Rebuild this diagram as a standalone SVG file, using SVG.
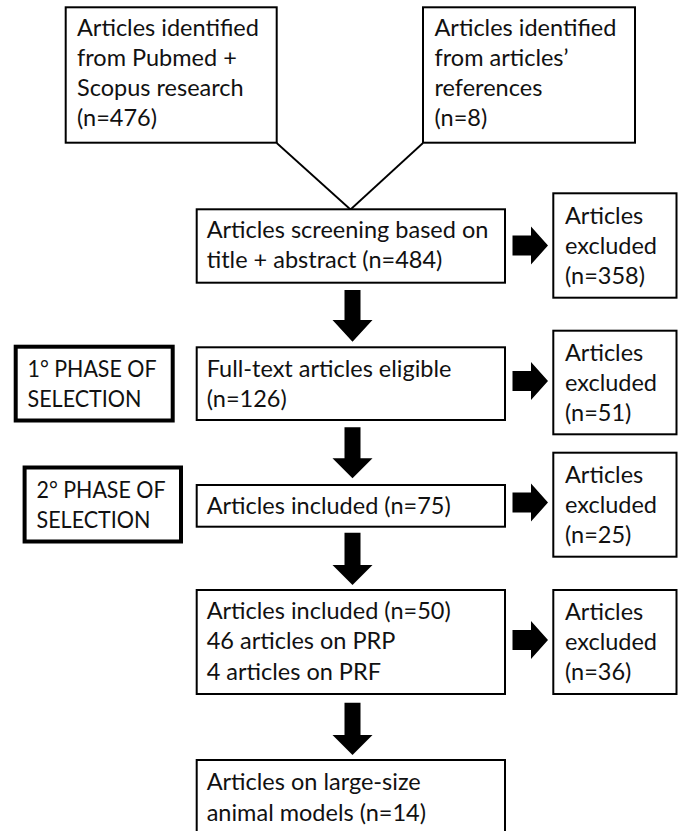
<svg xmlns="http://www.w3.org/2000/svg" width="678" height="831" viewBox="0 0 678 831">
<style>
.box{fill:#fff;stroke:#000;stroke-width:2}
.phase{fill:#fff;stroke:#000;stroke-width:4}
text{font-family:Lato,"Open Sans",sans-serif;font-size:23.5px;fill:#111}
.line{stroke:#000;stroke-width:1.8;fill:none}
.arr{fill:#000}
</style>
<rect width="678" height="831" fill="#fff"/>
<g id="connectors">
<line class="line" x1="276.7" y1="143" x2="350.5" y2="209.5"/>
<line class="line" x1="423" y1="143" x2="350.5" y2="209.5"/>
<path class="arr" d="M344.5,290H360.5V320H372.5L352.5,341.7L332.5,320H344.5Z"/>
<path class="arr" d="M344.5,427.3H360.5V458.3H372.5L352.5,478.3L332.5,458.3H344.5Z"/>
<path class="arr" d="M344.5,532.7H360.5V565H372.5L352.5,585L332.5,565H344.5Z"/>
<path class="arr" d="M344.5,702.7H360.5V735H372.5L352.5,755L332.5,735H344.5Z"/>
<path class="arr" d="M512.5,235.5H531V226.5L548,245.5L531,264.5V255.5H512.5Z"/>
<path class="arr" d="M512.5,371H531V362L548,381L531,400V391H512.5Z"/>
<path class="arr" d="M512.5,492.5H531V483.5L548,502.5L531,521.5V512.5H512.5Z"/>
<path class="arr" d="M512.5,630H531V621L548,640L531,659V650H512.5Z"/>
</g>
<g id="n_pubmed">
<rect class="box" x="65.7" y="7.3" width="211" height="135.4"/>
<text x="77" y="36">Articles identified</text>
<text x="77" y="66">from Pubmed +</text>
<text x="77" y="96">Scopus research</text>
<text x="77" y="126">(n=476)</text>
</g>
<g id="n_refs">
<rect class="box" x="423" y="7.3" width="212" height="135.4"/>
<text x="434.5" y="36">Articles identified</text>
<text x="434.5" y="66">from articles’</text>
<text x="434.5" y="96">references</text>
<text x="434.5" y="126">(n=8)</text>
</g>
<g id="n_screening">
<rect class="box" x="196.7" y="209.3" width="308.3" height="73.4"/>
<text x="206.7" y="238.3">Articles screening based on</text>
<text x="206.7" y="268.3">title + abstract (n=484)</text>
</g>
<g id="n_excl1">
<rect class="box" x="553.3" y="193.3" width="123.2" height="104.4"/>
<text x="565" y="223.5">Articles</text>
<text x="565" y="253.5">excluded</text>
<text x="565" y="283.5">(n=358)</text>
</g>
<g id="n_phase1">
<rect class="phase" x="15.7" y="346.7" width="157" height="73.8"/>
<text x="27.5" y="376.7" textLength="129" lengthAdjust="spacingAndGlyphs">1° PHASE OF</text>
<text x="27.5" y="406.7" textLength="114" lengthAdjust="spacingAndGlyphs">SELECTION</text>
</g>
<g id="n_fulltext">
<rect class="box" x="196.7" y="347.3" width="308.3" height="72.7"/>
<text x="206.7" y="376.5">Full-text articles eligible</text>
<text x="206.7" y="406.5">(n=126)</text>
</g>
<g id="n_excl2">
<rect class="box" x="553.3" y="330.7" width="123.2" height="103.6"/>
<text x="565" y="360.5">Articles</text>
<text x="565" y="390.5">excluded</text>
<text x="565" y="420.5">(n=51)</text>
</g>
<g id="n_phase2">
<rect class="phase" x="24.6" y="467.5" width="156.4" height="74"/>
<text x="36.5" y="498.3" textLength="129" lengthAdjust="spacingAndGlyphs">2° PHASE OF</text>
<text x="36.5" y="528.3" textLength="114" lengthAdjust="spacingAndGlyphs">SELECTION</text>
</g>
<g id="n_incl75">
<rect class="box" x="196.7" y="485" width="308.3" height="41.7"/>
<text x="206.7" y="514">Articles included (n=75)</text>
</g>
<g id="n_excl3">
<rect class="box" x="553.3" y="452.7" width="123.2" height="104"/>
<text x="565" y="482.7">Articles</text>
<text x="565" y="512.7">excluded</text>
<text x="565" y="542.7">(n=25)</text>
</g>
<g id="n_incl50">
<rect class="box" x="196.7" y="590" width="308.3" height="104"/>
<text x="206.7" y="618.5">Articles included (n=50)</text>
<text x="206.7" y="649">46 articles on PRP</text>
<text x="206.7" y="679.5">4 articles on PRF</text>
</g>
<g id="n_excl4">
<rect class="box" x="553.3" y="590" width="123.2" height="104"/>
<text x="565" y="619.5">Articles</text>
<text x="565" y="649.5">excluded</text>
<text x="565" y="679.5">(n=36)</text>
</g>
<g id="n_large">
<rect class="box" x="196.7" y="760" width="308.3" height="90"/>
<text x="206.7" y="790">Articles on large-size</text>
<text x="206.7" y="820.5">animal models (n=14)</text>
</g>
</svg>
